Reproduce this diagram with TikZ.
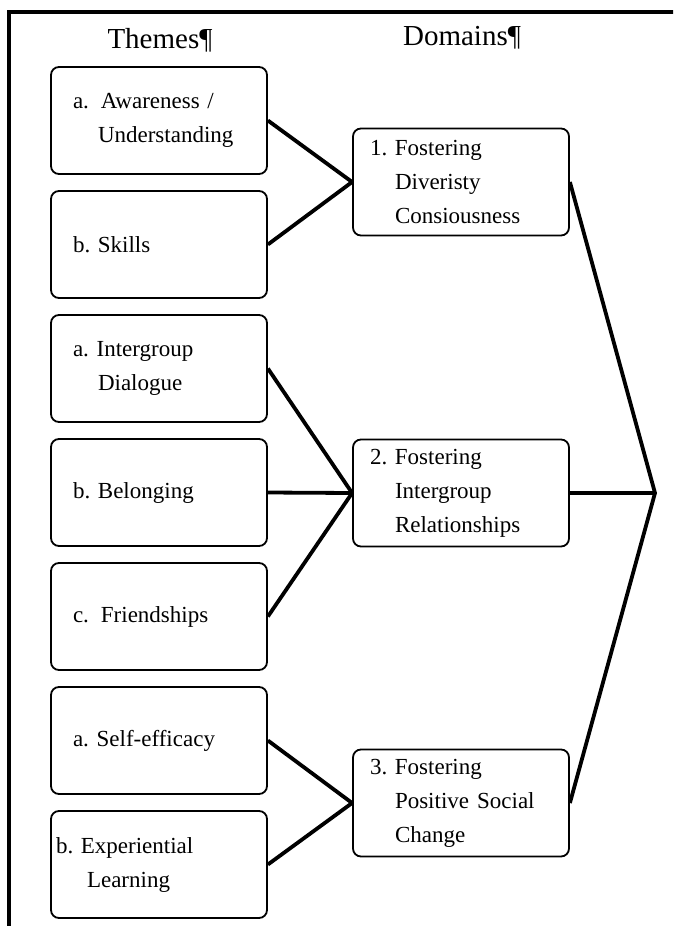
\documentclass[tikz,border=0pt]{standalone}
\usepackage{fontspec}
\setmainfont{Liberation Serif}
\usepackage{amsmath,tikz}

\tikzset{
  themebox/.style={draw, rounded corners=8pt, line width=1.8pt, minimum height=107pt,
    text width=172pt, inner xsep=22pt, align=left, font=\fontsize{23}{34}\selectfont},
  domainbox/.style={themebox, text width=182pt, inner xsep=17pt},
  link/.style={line width=3.8pt},
  heading/.style={font=\fontsize{29}{34}\selectfont},
}

\begin{document}
\begin{tikzpicture}[x=1pt,y=-1pt]

\useasboundingbox (0,0) rectangle (673,926);
\clip (0,0) rectangle (673,926);

% outer frame
\draw[line width=3.8pt] (9,940) -- (9,12) -- (690,12);

\node[heading] (hthemes) at (160,40) {Themes¶};
\node[heading] (hdomains) at (462,38) {Domains¶};

% themes
\node[themebox] (t1) at (159,120.5) {a.\hspace{12pt}Awareness /\\\hspace*{25pt}Understanding};
\node[themebox] (t2) at (159,244.5) {b.~Skills};
\node[themebox] (t3) at (159,368.5) {a.~Intergroup\\\hspace*{25pt}Dialogue};
\node[themebox] (t4) at (159,492.5) {b.~Belonging};
\node[themebox] (t5) at (159,616.5) {c.\hspace{12pt}Friendships};
\node[themebox] (t6) at (159,740.5) {a.~Self-efficacy};
\node[themebox] (t7) at (159,864.5) {\hspace*{-17pt}b.~Experiential\\\hspace*{14pt}Learning};

% domains
\node[domainbox] (d1) at (461,182) {1.~Fostering\\\hspace*{25pt}Diveristy\\\hspace*{25pt}Consiousness};
\node[domainbox] (d2) at (461,493) {2.~Fostering\\\hspace*{25pt}Intergroup\\\hspace*{25pt}Relationships};
\node[domainbox] (d3) at (461,803) {3.~Fostering\\\hspace*{25pt}Positive\hspace{8pt}Social\\\hspace*{25pt}Change};

\coordinate (hub) at (655,493);

\foreach \t/\d in {t1/d1,t2/d1,t3/d2,t4/d2,t5/d2,t6/d3,t7/d3}
  \draw[link] (\t.east) -- (\d.west);

\draw[link, line join=miter] (d1.east) -- (hub) -- (d3.east);
\draw[link] (d2.east) -- (hub);

\end{tikzpicture}
\end{document}
